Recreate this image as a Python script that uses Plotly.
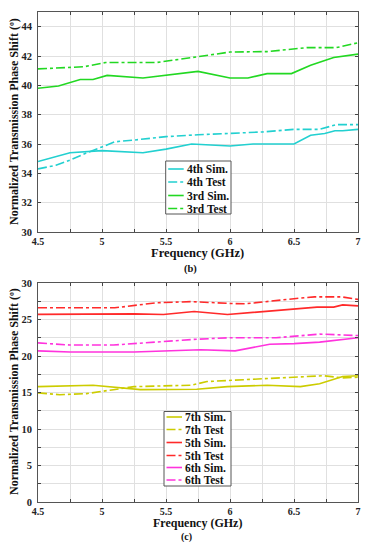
import plotly.graph_objects as go

# ---------------- data ----------------
# panel (b)
f3_sim = [4.5, 4.66, 4.83, 4.93, 5.04, 5.32, 5.75, 6.0, 6.14, 6.29, 6.48, 6.63, 6.81, 7.0]
v3_sim = [39.8, 39.95, 40.4, 40.4, 40.68, 40.5, 40.95, 40.5, 40.5, 40.8, 40.8, 41.37, 41.9, 42.13]
f3_test = [4.5, 4.75, 4.86, 5.03, 5.43, 5.75, 6.0, 6.29, 6.5, 6.6, 6.83, 7.0]
v3_test = [41.12, 41.2, 41.27, 41.56, 41.56, 41.95, 42.27, 42.3, 42.5, 42.57, 42.57, 42.9]
f4_sim = [4.5, 4.75, 5.0, 5.12, 5.32, 5.5, 5.7, 6.0, 6.18, 6.5, 6.63, 6.74, 6.82, 6.88, 7.0]
v4_sim = [34.8, 35.4, 35.55, 35.5, 35.4, 35.65, 36.0, 35.86, 36.0, 36.0, 36.6, 36.72, 36.9, 36.9, 37.0]
f4_test = [4.5, 4.64, 4.75, 4.88, 5.0, 5.1, 5.25, 5.5, 5.75, 6.0, 6.25, 6.5, 6.7, 6.83, 7.0]
v4_test = [34.3, 34.55, 34.9, 35.4, 35.8, 36.15, 36.27, 36.5, 36.63, 36.7, 36.82, 37.0, 37.0, 37.32, 37.32]

# panel (c)
f5_sim = [4.5, 4.86, 5.25, 5.48, 5.72, 5.98, 6.29, 6.5, 6.68, 6.81, 6.88, 7.0]
v5_sim = [25.7, 25.77, 25.77, 25.68, 26.1, 25.68, 26.1, 26.4, 26.7, 26.7, 27.0, 26.86]
f5_test = [4.5, 5.1, 5.43, 5.7, 6.0, 6.12, 6.5, 6.66, 6.87, 7.0]
v5_test = [26.6, 26.6, 27.3, 27.45, 27.2, 27.15, 27.85, 28.1, 28.1, 27.75]
f6_sim = [4.5, 4.75, 5.25, 5.77, 6.04, 6.31, 6.5, 6.7, 7.0]
v6_sim = [20.7, 20.55, 20.55, 20.85, 20.7, 21.6, 21.7, 21.9, 22.5]
f6_test = [4.5, 4.75, 5.09, 5.48, 5.74, 6.0, 6.36, 6.7, 7.0]
v6_test = [21.8, 21.5, 21.5, 22.0, 22.3, 22.5, 22.5, 23.0, 22.8]
f7_sim = [4.5, 4.93, 5.3, 5.74, 5.98, 6.29, 6.55, 6.7, 6.88, 7.0]
v7_sim = [15.8, 16.0, 15.4, 15.45, 15.8, 16.0, 15.8, 16.2, 17.2, 17.3]
f7_test = [4.5, 4.67, 4.88, 5.04, 5.25, 5.46, 5.7, 5.82, 6.03, 6.5, 6.73, 6.88, 7.0]
v7_test = [14.95, 14.7, 14.85, 15.3, 15.8, 15.9, 16.0, 16.5, 16.7, 17.1, 17.3, 17.0, 17.1]

x_ticks = [4.5, 5, 5.5, 6, 6.5, 7]
x_ticklabels = ["4.5", "5", "5.5", "6", "6.5", "7"]

names_b = ["4th Sim.", "4th Test", "3rd Sim.", "3rd Test"]
names_c = ["7th Sim.", "7th Test", "5th Sim.", "5th Test", "6th Sim.", "6th Test"]
x_title = "Frequency (GHz)"
y_title = "Normalized Transmission Phase Shift (º)"

# ---------------- styles ----------------
CYAN = "#22d0d0"
GREEN = "#22d822"
YELLOW = "#cccc00"
RED = "#ff2a2a"
MAGENTA = "#ff33dd"
FONT = "Liberation Serif"
OFF = 8                      # default page (body) margin of the html page
W, H = 373 - 2 * OFF, 550 - 2 * OFF
# plot-area edges in page pixels
P_L, P_R, P_T, P_B = 38, 358, 12, 502
ML, MR, MT, MB = P_L - OFF, W - (P_R - OFF), P_T - OFF, H - (P_B - OFF)

def px_x(p):
    return (p - P_L) / (P_R - P_L)

def px_y(p):
    return (P_B - p) / (P_B - P_T)

series_b = [(f4_sim, v4_sim, CYAN, "solid"), (f4_test, v4_test, CYAN, "dashdot"),
            (f3_sim, v3_sim, GREEN, "solid"), (f3_test, v3_test, GREEN, "dashdot")]
series_c = [(f7_sim, v7_sim, YELLOW, "solid"), (f7_test, v7_test, YELLOW, "dashdot"),
            (f5_sim, v5_sim, RED, "solid"), (f5_test, v5_test, RED, "dashdot"),
            (f6_sim, v6_sim, MAGENTA, "solid"), (f6_test, v6_test, MAGENTA, "dashdot")]

fig = go.Figure()
for (xs, ys, c, d), nm in zip(series_b, names_b):
    fig.add_trace(go.Scatter(x=xs, y=ys, mode="lines", name=nm, xaxis="x", yaxis="y",
                             line=dict(color=c, width=1.6, dash=d), showlegend=False))
for (xs, ys, c, d), nm in zip(series_c, names_c):
    fig.add_trace(go.Scatter(x=xs, y=ys, mode="lines", name=nm, xaxis="x2", yaxis="y2",
                             line=dict(color=c, width=1.6, dash=d), showlegend=False))

tickfont = dict(family=FONT, size=10.5, color="#222", weight="bold")
titlefont = dict(family=FONT, size=12.5, color="#111", weight="bold")
ytitlefont = dict(family=FONT, size=12, color="#111", weight="bold")
GRID = "#e0e0e0"

def xaxis(anchor):
    return dict(domain=[0, 1], anchor=anchor, range=[4.5, 7], tickvals=x_ticks, ticktext=x_ticklabels,
                ticks="inside", ticklen=3, tickcolor="#444", mirror="ticks",
                showline=True, linecolor="#555", linewidth=1,
                showgrid=True, gridcolor=GRID, gridwidth=1, zeroline=False,
                minor=dict(dtick=0.25, tick0=4.5, ticks="inside", ticklen=3, tickcolor="#444",
                           showgrid=True, gridcolor=GRID, gridwidth=1),
                tickfont=dict(tickfont, size=10), ticklabelstandoff=0)

def yaxis(anchor, dom, rng, dt, minor_dt):
    ax = dict(domain=dom, anchor=anchor, range=rng, dtick=dt, tick0=0,
              ticks="inside", ticklen=3, tickcolor="#444", mirror="ticks",
              showline=True, linecolor="#555", linewidth=1,
              showgrid=True, gridcolor=GRID, gridwidth=1, zeroline=False,
              tickfont=tickfont, ticklabelstandoff=3)
    if minor_dt:
        ax["minor"] = dict(dtick=minor_dt, ticks="inside", ticklen=3, tickcolor="#444",
                           showgrid=True, gridcolor=GRID, gridwidth=1)
    return ax

dom_b = [px_y(232), 1.0]
dom_c = [0.0, px_y(283)]

shapes = []
annotations = []
legfont = dict(family=FONT, size=11.5, color="#111", weight="bold")

def manual_legend(box, rows, names, series):
    x0, y0, x1, y1 = box
    shapes.append(dict(type="rect", xref="paper", yref="paper",
                       x0=px_x(x0), x1=px_x(x1), y0=px_y(y0), y1=px_y(y1),
                       line=dict(color="#555", width=1), fillcolor="white", layer="above"))
    for ry, nm, (_, _, c, d) in zip(rows, names, series):
        shapes.append(dict(type="line", xref="paper", yref="paper",
                           x0=px_x(x0 + 2.5), x1=px_x(x0 + 18), y0=px_y(ry), y1=px_y(ry),
                           line=dict(color=c, width=1.6, dash=d), layer="above"))
        annotations.append(dict(text=nm, xref="paper", yref="paper", x=px_x(x0 + 19), y=px_y(ry),
                                xanchor="left", yanchor="middle", showarrow=False, font=legfont))

manual_legend((165.7, 161, 231, 214), [169, 182, 195.5, 208.5], names_b, series_b)
manual_legend((164, 411.5, 231, 486), [417, 429.5, 442.5, 455.5, 467.5, 480], names_c, series_c)

def text_at(txt, x, y, font, angle=0):
    annotations.append(dict(text=txt, xref="paper", yref="paper", x=px_x(x), y=px_y(y),
                            xanchor="center", yanchor="middle", showarrow=False, font=font,
                            textangle=angle, borderpad=0))

capfont = dict(family=FONT, size=10.5, color="#111", weight="bold")
text_at(x_title, 197, 253, titlefont)
text_at(x_title, 197, 523, dict(titlefont, size=12))
text_at(y_title, 14, 122, ytitlefont, -90)
text_at(y_title, 14, 392, ytitlefont, -90)
text_at("(b)", 190, 268.5, capfont)
text_at("(c)", 186, 536.5, dict(capfont, size=10))

fig.update_layout(
    width=W, height=H, autosize=False,
    margin=dict(l=ML, r=MR, t=MT, b=MB, autoexpand=False),
    paper_bgcolor="white", plot_bgcolor="white",
    xaxis=xaxis("y"), yaxis=yaxis("x", dom_b, [30, 45], 2, None),
    xaxis2=xaxis("y2"), yaxis2=yaxis("x2", dom_c, [0, 30], 5, 2.5),
    shapes=shapes, annotations=annotations, showlegend=False,
)
fig.update_xaxes(automargin=False)
fig.update_yaxes(automargin=False)

fig.write_html("out.html", config=dict(displayModeBar=False))
